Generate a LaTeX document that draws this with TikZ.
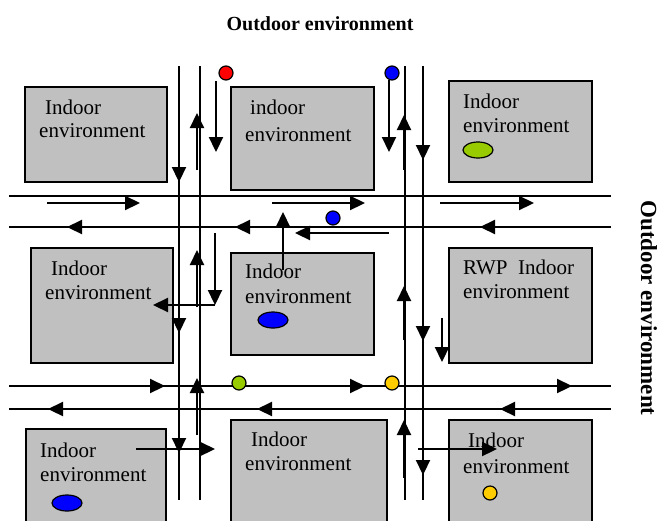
\documentclass[tikz,border=0pt]{standalone}
\usepackage{fontspec}
\setmainfont{Liberation Serif}
\usetikzlibrary{arrows.meta}
\definecolor{boxgray}{HTML}{C0C0C0}
\definecolor{dotgreen}{HTML}{99CC00}
\definecolor{dotyellow}{HTML}{FFCC00}
\begin{document}
\begin{tikzpicture}[x=1pt,y=-1pt,
  road/.style={line width=1.5pt},
  arr/.style={line width=2.2pt,-{Triangle[length=15pt,width=14pt]}},
  room/.style={draw=black,fill=boxgray,line width=1.5pt},
  lbl/.style={anchor=base west,inner sep=0pt,font=\fontsize{21}{24}\selectfont},
  outlbl/.style={anchor=base,inner sep=0pt,font=\fontsize{20}{24}\selectfont\bfseries},
  dot/.style={draw=black,line width=1.2pt},
]
\useasboundingbox (0,0) rectangle (658,520);
\clip (0,0) rectangle (658,520);

% rooms
\draw[room] (25,87) rectangle (167,182);
\draw[room] (231,87) rectangle (374,190);
\draw[room] (449,81) rectangle (592,182);
\draw[room] (31,248) rectangle (173,363);
\draw[room] (231,253) rectangle (374,355);
\draw[room] (449,248) rectangle (592,363);
\draw[room] (26,429) rectangle (166,530);
\draw[room] (231,420) rectangle (387,530);
\draw[room] (449,420) rectangle (592,530);

% labels
\node[lbl] (t1a) at (45,114) {Indoor};
\node[lbl] (t1b) at (39,137) {environment};
\node[lbl] (t2a) at (250,114) {indoor};
\node[lbl] (t2b) at (245,141) {environment};
\node[lbl] (t3a) at (463,108) {Indoor};
\node[lbl] (t3b) at (463,132) {environment};
\node[lbl] (t4a) at (51,275) {Indoor};
\node[lbl] (t4b) at (45,299) {environment};
\node[lbl] (t5a) at (245,278) {Indoor};
\node[lbl] (t5b) at (245,303) {environment};
\node[lbl] (t6a) at (463,274) {RWP\ \ Indoor};
\node[lbl] (t6b) at (463,298) {environment};
\node[lbl] (t7a) at (40,457) {Indoor};
\node[lbl] (t7b) at (40,481) {environment};
\node[lbl] (t8a) at (251,446) {Indoor};
\node[lbl] (t8b) at (245,470) {environment};
\node[lbl] (t9a) at (468,447) {Indoor};
\node[lbl] (t9b) at (463,473) {environment};

\node[outlbl] (top) at (320,30) {Outdoor environment};
\node[outlbl,rotate=-90,font=\fontsize{23}{26}\selectfont\bfseries] (side) at (641,308) {Outdoor environment};

% roads
\draw[road] (9,196) -- (611,196);
\draw[road] (9,227) -- (611,227);
\draw[road] (9,386) -- (611,386);
\draw[road] (9,409) -- (611,409);
\draw[road] (179,66) -- (179,500);
\draw[road] (200,66) -- (200,500);
\draw[road] (405,66) -- (405,500);
\draw[road] (423,66) -- (423,500);

% vertical arrows
\draw[arr] (179,130) -- (179,182);
\draw[arr] (197,170) -- (197,113);
\draw[arr] (216,81) -- (216,152);
\draw[arr] (389,80) -- (389,152);
\draw[arr] (404,170) -- (404,115);
\draw[arr] (423,105) -- (423,160);
\draw[arr] (215,233) -- (215,305);
\draw[arr] (197,307) -- (197,250);
\draw[arr] (179,280) -- (179,333);
\draw[arr] (404,340) -- (404,286);
\draw[arr] (423,285) -- (423,341);
\draw[arr] (442,318) -- (442,362);
\draw[arr] (197,435) -- (197,378);
\draw[arr] (179,400) -- (179,453);
\draw[arr] (404,478) -- (404,420);
\draw[arr] (423,420) -- (423,475);
\draw[arr] (283,270) -- (283,212);

% horizontal arrows
\draw[arr] (47,203) -- (140,203);
\draw[arr] (160,227) -- (67,227);
\draw[arr] (272,203) -- (365,203);
\draw[arr] (330,227) -- (235,227);
\draw[arr] (389,233) -- (295,233);
\draw[arr] (215,305) -- (153,305);
\draw[arr] (440,203) -- (534,203);
\draw[arr] (573,227) -- (480,227);
\draw[arr] (72,386) -- (165,386);
\draw[arr] (142,409) -- (48,409);
\draw[arr] (348,409) -- (257,409);
\draw[arr] (272,386) -- (365,386);
\draw[arr] (478,386) -- (572,386);
\draw[arr] (593,409) -- (500,409);
\draw[arr] (136,449) -- (215,449);
\draw[arr] (418,449) -- (497,449);

% mobile users
\draw[dot,fill=red] (226,73) circle (7);
\draw[dot,fill=blue] (392,73) circle (7);
\draw[dot,fill=blue] (333,218) circle (7);
\draw[dot,fill=dotgreen] (239,383) circle (7);
\draw[dot,fill=dotyellow] (392,383) circle (7);
\draw[dot,fill=dotyellow] (490,493) circle (7);
\draw[dot,fill=dotgreen] (478,150) ellipse (15 and 8);
\draw[dot,fill=blue] (273,320) ellipse (15 and 8);
\draw[dot,fill=blue] (67,503) ellipse (15 and 8);
\end{tikzpicture}
\end{document}
